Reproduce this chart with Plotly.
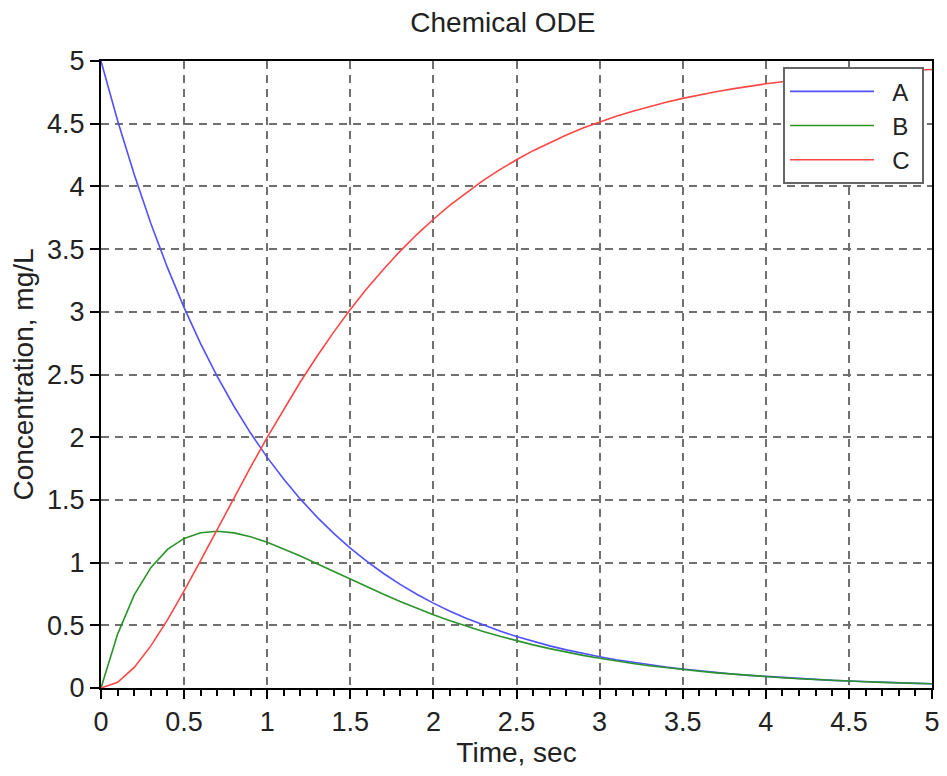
import plotly.graph_objects as go

time_sec = [0.0, 0.1, 0.2, 0.3, 0.4, 0.5, 0.6, 0.7, 0.8, 0.9, 1.0, 1.1, 1.2, 1.3, 1.4, 1.5, 1.6, 1.7, 1.8, 1.9,
            2.0, 2.1, 2.2, 2.3, 2.4, 2.5, 2.6, 2.7, 2.8, 2.9, 3.0, 3.1, 3.2, 3.3, 3.4, 3.5, 3.6, 3.7, 3.8, 3.9,
            4.0, 4.1, 4.2, 4.3, 4.4, 4.5, 4.6, 4.7, 4.8, 4.9, 5.0]
conc_A = [5.000, 4.524, 4.094, 3.704, 3.352, 3.033, 2.744, 2.483, 2.247, 2.033, 1.839, 1.665, 1.506, 1.363, 1.233,
          1.116, 1.009, 0.913, 0.826, 0.748, 0.677, 0.612, 0.554, 0.501, 0.454, 0.410, 0.371, 0.336, 0.304, 0.275,
          0.249, 0.225, 0.204, 0.184, 0.167, 0.151, 0.137, 0.124, 0.112, 0.101, 0.092, 0.083, 0.075, 0.068, 0.061,
          0.056, 0.050, 0.045, 0.041, 0.037, 0.034]
conc_B = [0.000, 0.430, 0.742, 0.960, 1.105, 1.193, 1.238, 1.250, 1.237, 1.206, 1.163, 1.110, 1.052, 0.991, 0.929,
          0.866, 0.806, 0.747, 0.690, 0.636, 0.585, 0.537, 0.493, 0.451, 0.412, 0.377, 0.344, 0.314, 0.286, 0.260,
          0.237, 0.215, 0.196, 0.178, 0.162, 0.147, 0.133, 0.121, 0.110, 0.099, 0.090, 0.082, 0.074, 0.067, 0.061,
          0.055, 0.050, 0.045, 0.041, 0.037, 0.034]
conc_C = [0.000, 0.046, 0.164, 0.336, 0.543, 0.774, 1.018, 1.267, 1.516, 1.761, 1.998, 2.225, 2.442, 2.646, 2.838,
          3.018, 3.185, 3.340, 3.484, 3.616, 3.738, 3.851, 3.953, 4.048, 4.134, 4.213, 4.285, 4.350, 4.410, 4.465,
          4.514, 4.560, 4.600, 4.638, 4.671, 4.702, 4.730, 4.755, 4.778, 4.800, 4.818, 4.835, 4.851, 4.865, 4.878,
          4.889, 4.900, 4.910, 4.918, 4.926, 4.932]

series_names = ["A", "B", "C"]
x_ticks = [0, 0.5, 1, 1.5, 2, 2.5, 3, 3.5, 4, 4.5, 5]
y_ticks = [0, 0.5, 1, 1.5, 2, 2.5, 3, 3.5, 4, 4.5, 5]

FONT = "Liberation Sans, Arial, sans-serif"
TXT = "#222222"
NBSP = "\u00a0"

fig = go.Figure()
for name, ys, col in zip(series_names, [conc_A, conc_B, conc_C], ["#5050ff", "#2a942a", "#ff4545"]):
    fig.add_trace(go.Scatter(x=time_sec, y=ys, mode="lines", name=NBSP * 2 + name + NBSP,
                             line=dict(color=col, width=1.6)))

axis_common = dict(
    showline=True, linecolor="black", linewidth=2, mirror=True,
    showgrid=True, gridcolor="#707070", griddash="8px,6px", gridwidth=2,
    ticks="outside", ticklen=9, tickwidth=2, tickcolor="black",
    tickfont=dict(family=FONT, size=27, color=TXT),
    zeroline=False, automargin=False,
)

fig.update_xaxes(range=[0, 5], tickvals=x_ticks, ticktext=[str(v) for v in x_ticks],
                 title=dict(text="Time, sec", font=dict(family=FONT, size=28, color=TXT), standoff=6),
                 minor=dict(dtick=0.1, ticks="outside", ticklen=6, tickwidth=1.5, tickcolor="black", showgrid=False),
                 **axis_common)
fig.update_yaxes(range=[0, 5], tickvals=y_ticks, ticktext=[str(v) for v in y_ticks],
                 title=dict(text="Concentration, mg/L", font=dict(family=FONT, size=28, color=TXT), standoff=12),
                 **axis_common)

fig.update_layout(
    width=939, height=768,
    margin=dict(l=93, r=15, t=53, b=88),
    paper_bgcolor="white", plot_bgcolor="white",
    title=dict(text="Chemical ODE", x=0.527, xanchor="center", y=0.982, yanchor="middle",
               font=dict(family=FONT, size=28, color=TXT)),
    showlegend=True,
    legend=dict(x=0.8207, y=0.99, xanchor="left", yanchor="top",
                bgcolor="white", bordercolor="#666", borderwidth=2,
                font=dict(family=FONT, size=24, color=TXT),
                itemwidth=84, tracegroupgap=0),
)

fig.write_html("out.html")
